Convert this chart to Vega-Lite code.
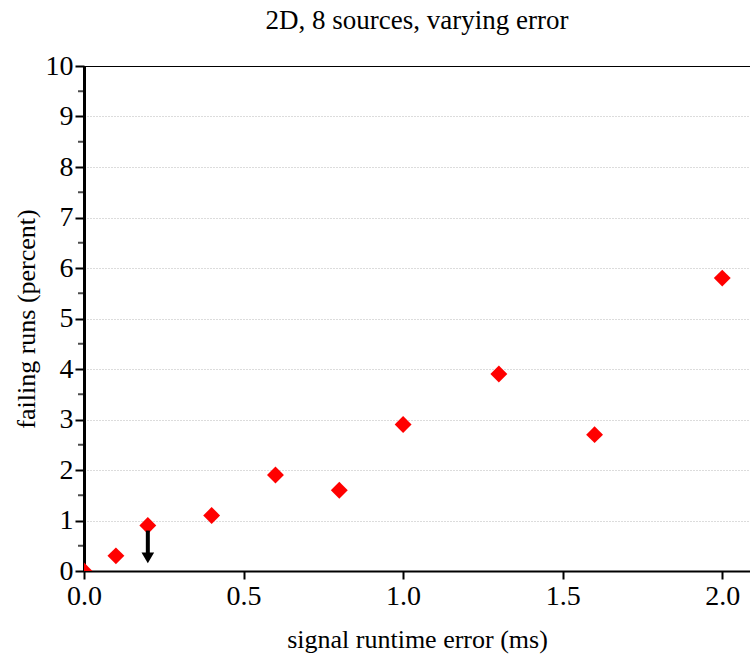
{
  "$schema": "https://vega.github.io/schema/vega-lite/v6.json",
  "width": 666,
  "height": 505,
  "autosize": {"type": "none"},
  "padding": {"left": 84, "top": 66, "right": 0, "bottom": 86},
  "background": "white",
  "title": {"text": "2D, 8 sources, varying error", "font": "Liberation Serif", "fontSize": 27, "fontWeight": "normal", "color": "black", "anchor": "middle", "offset": 17},
  "config": {
    "view": {"stroke": null},
    "axis": {"labelFont": "Liberation Serif", "titleFont": "Liberation Serif", "labelColor": "black", "titleColor": "black", "domainColor": "black", "tickColor": "black", "titleFontWeight": "normal", "labelFlush": false, "labelFontSize": 28, "titleFontSize": 26}
  },
  "datasets": {
    "pts": [
      {"error": 0.0, "failing": 0.0},
      {"error": 0.1, "failing": 0.3},
      {"error": 0.2, "failing": 0.9},
      {"error": 0.4, "failing": 1.1},
      {"error": 0.6, "failing": 1.9},
      {"error": 0.8, "failing": 1.6},
      {"error": 1.0, "failing": 2.9},
      {"error": 1.3, "failing": 3.9},
      {"error": 1.6, "failing": 2.7},
      {"error": 2.0, "failing": 5.8}
    ],
    "arrow": [{"error": 0.2, "top": 0.8, "bottom": 0.32, "tip": 0.26}],
    "minor": [{"v": 0.5}, {"v": 1.5}, {"v": 2.5}, {"v": 3.5}, {"v": 4.5}, {"v": 5.5}, {"v": 6.5}, {"v": 7.5}, {"v": 8.5}, {"v": 9.5}]
  },
  "layer": [
    {
      "data": {"name": "pts"},
      "mark": {"type": "point", "opacity": 0},
      "encoding": {
        "x": {"field": "error", "type": "quantitative", "scale": {"domain": [0, 2.087], "nice": false, "zero": false},
          "axis": {"title": "signal runtime error (ms)", "titleFontSize": 26, "titlePadding": 16, "labelFontSize": 28, "tickSize": 8, "labelPadding": 3, "labelFlush": false, "values": [0, 0.5, 1, 1.5, 2], "format": ".1f", "grid": false, "domainWidth": 2, "tickWidth": 2}},
        "y": {"field": "failing", "type": "quantitative", "scale": {"domain": [0, 10], "nice": false},
          "axis": {"title": "failing runs (percent)", "titleFontSize": 26, "titlePadding": 6, "labelFontSize": 28, "tickSize": 9, "labelPadding": 2, "labelFlush": false, "values": [0,1,2,3,4,5,6,7,8,9,10], "grid": true, "gridColor": "#b8b8b8", "gridDash": [1, 2], "gridWidth": 1, "domainWidth": 3, "tickWidth": 2}}
      }
    },
    {
      "data": {"name": "minor"},
      "mark": {"type": "tick", "orient": "horizontal", "color": "black", "thickness": 2, "size": 6, "xOffset": -3, "clip": false},
      "encoding": {
        "y": {"field": "v", "type": "quantitative"},
        "x": {"datum": 0, "type": "quantitative"}
      }
    },
    {
      "data": {"values": [{"a": 0}]},
      "mark": {"type": "rule", "color": "black", "strokeWidth": 2, "clip": true},
      "encoding": {
        "y": {"datum": 10, "type": "quantitative"}
      }
    },
    {
      "data": {"name": "pts"},
      "mark": {"type": "point", "shape": "diamond", "filled": true, "color": "#ff0000", "opacity": 1, "size": 285, "clip": true},
      "encoding": {
        "x": {"field": "error", "type": "quantitative"},
        "y": {"field": "failing", "type": "quantitative"}
      }
    },
    {
      "data": {"name": "arrow"},
      "mark": {"type": "rule", "color": "black", "strokeWidth": 4},
      "encoding": {
        "x": {"field": "error", "type": "quantitative"},
        "y": {"field": "top", "type": "quantitative"},
        "y2": {"field": "bottom"}
      }
    },
    {
      "data": {"name": "arrow"},
      "mark": {"type": "point", "shape": "triangle-down", "filled": true, "color": "black", "opacity": 1, "size": 160},
      "encoding": {
        "x": {"field": "error", "type": "quantitative"},
        "y": {"field": "tip", "type": "quantitative"}
      }
    }
  ]
}
